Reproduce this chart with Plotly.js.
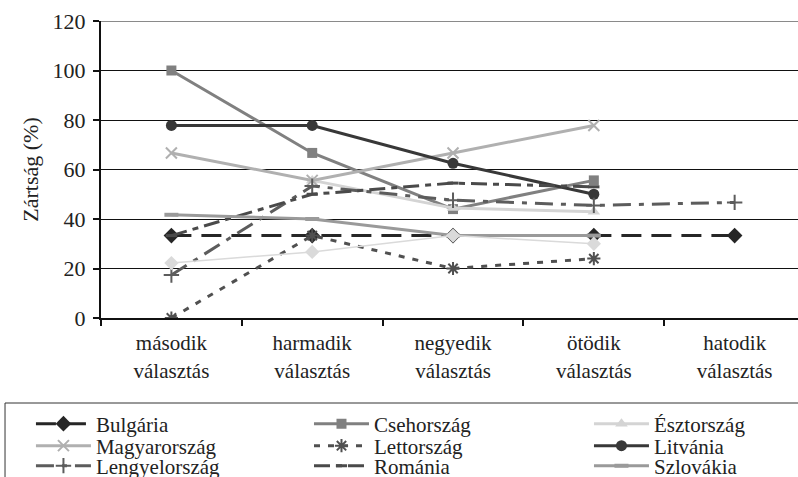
<!DOCTYPE html>
<html><head><meta charset="utf-8">
<script src="https://cdn.plot.ly/plotly-3.0.1.min.js"></script>
<style>html,body{margin:0;padding:0;background:#fff;overflow:hidden}</style>
</head><body><div id="chart" style="width:798px;height:477px"></div>
<script>
const categories = ["második<br>választás","harmadik<br>választás","negyedik<br>választás","ötödik<br>választás","hatodik<br>választás"];
const bulgaria     = [33.3, 33.3, 33.3, 33.3, 33.3];
const csehorszag   = [100, 66.7, 44.0, 55.6, null];
const esztorszag   = [null, 55.6, 44.4, 42.9, null];
const magyarorszag = [66.7, 55.6, 66.7, 77.8, null];
const lettorszag   = [0, 33.3, 20, 24, null];
const litvania     = [77.8, 77.8, 62.5, 50, null];
const lengyelorszag= [17.4, 53.3, 47.6, 45.5, 46.7];
const romania      = [33.3, 50, 54.5, 53, null];
const szlovakia    = [41.7, 40, 33.3, 33.3, null];
const szlovenia    = [22.2, 26.7, 33.3, 30, null];
const yTicks = [0,20,40,60,80,100,120];

function tr(name, y, color, width, dash, symbol, msize, mline, extra) {
  return Object.assign({
    type:'scatter', mode:'lines+markers', name:name, x:categories, y:y,
    line:{color:color, width:width, dash:dash},
    marker:{symbol:symbol, size:msize, color:color, line:{color:color, width:mline}},
    connectgaps:false
  }, extra||{});
}
const data = [
  tr('Bulgária', bulgaria, '#262626', 3, '20px,10px', 'diamond', 12, 0, {legend:'legend'}),
  tr('Csehország', csehorszag, '#808080', 3, 'solid', 'square', 10, 0, {legend:'legend2'}),
  tr('Észtország', esztorszag, '#d4d4d4', 3, 'solid', 'triangle-up', 11, 0, {legend:'legend3'}),
  tr('Magyarország', magyarorszag, '#b0b0b0', 3, 'solid', 'x-thin-open', 11, 2, {legend:'legend4'}),
  tr('Lettország', lettorszag, '#505050', 3, '6px,8px', 'asterisk-open', 11, 2, {legend:'legend5'}),
  tr('Litvánia', litvania, '#383838', 3, 'solid', 'circle', 11, 0, {legend:'legend6'}),
  tr('Lengyelország', lengyelorszag, '#5c5c5c', 3, '18px,8px,5px,8px', 'cross-thin-open', 11, 2, {legend:'legend7'}),
  tr('Románia', romania, '#4a4a4a', 3, '16px,6px,6px,6px', 'line-ew-open', 8, 3, {legend:'legend8'}),
  tr('Szlovákia', szlovakia, '#9a9a9a', 3, 'solid', 'line-ew-open', 10, 4, {legend:'legend9'}),
  tr('Szlovénia', szlovenia, '#dadada', 1.5, 'solid', 'diamond', 11, 0, {showlegend:false})
];
const serif = '"Liberation Serif", "DejaVu Serif", serif';
function leg(x, y) {
  return {orientation:'v', x:x, xanchor:'left', y:y, yanchor:'middle',
    itemwidth:55, borderwidth:0, bgcolor:'rgba(0,0,0,0)',
    font:{family:serif, size:21, color:'#222'}, tracegroupgap:0};
}
const colX = [-0.1005, 0.2984, 0.7001];
const rowY = [-0.3569, -0.4310, -0.4983];
const layout = {
  width:798, height:477,
  margin:{l:101, r:0, t:21, b:159, autoexpand:false},
  paper_bgcolor:'#fff', plot_bgcolor:'#fff',
  font:{family:serif, size:22, color:'#222'},
  showlegend:true,
  xaxis:{type:'category', range:[-0.5,4.45], showgrid:false, zeroline:false,
    showline:true, linecolor:'#111', linewidth:2, ticks:'outside', tickson:'boundaries',
    ticklen:6, tickwidth:2, tickcolor:'#111', ticklabelstandoff:5,
    tickfont:{family:serif, size:21, color:'#222'}},
  yaxis:{range:[0,120], tickvals:yTicks, ticktext:yTicks.map(String), showgrid:true, gridcolor:'#111', gridwidth:1,
    zeroline:false, showline:true, linecolor:'#111', linewidth:2, ticks:'outside', ticklen:6, tickwidth:2, tickcolor:'#111',
    tickfont:{family:serif, size:22, color:'#222'}, ticklabelstandoff:3,
    title:{text:'Zártság (%)', font:{family:serif, size:22, color:'#222'}, standoff:8}},
  legend:leg(colX[0], rowY[0]),
  legend2:leg(colX[1], rowY[0]),
  legend3:leg(colX[2], rowY[0]),
  legend4:leg(colX[0], rowY[1]),
  legend5:leg(colX[1], rowY[1]),
  legend6:leg(colX[2], rowY[1]),
  legend7:leg(colX[0], rowY[2]),
  legend8:leg(colX[1], rowY[2]),
  legend9:leg(colX[2], rowY[2]),
  shapes:[
    {type:'rect', xref:'paper', yref:'paper', x0:-0.1377, x1:1.05, y0:-0.2862, y1:-0.7,
      line:{color:'#333', width:1}, fillcolor:'rgba(0,0,0,0)', layer:'below'},
    {type:'line', xref:'paper', yref:'y', x0:0, x1:1, y0:120, y1:120,
      line:{color:'#8a8a8a', width:2}, layer:'above'}
  ]
};
Plotly.newPlot('chart', data, layout, {displayModeBar:false, staticPlot:true});
</script></body></html>
